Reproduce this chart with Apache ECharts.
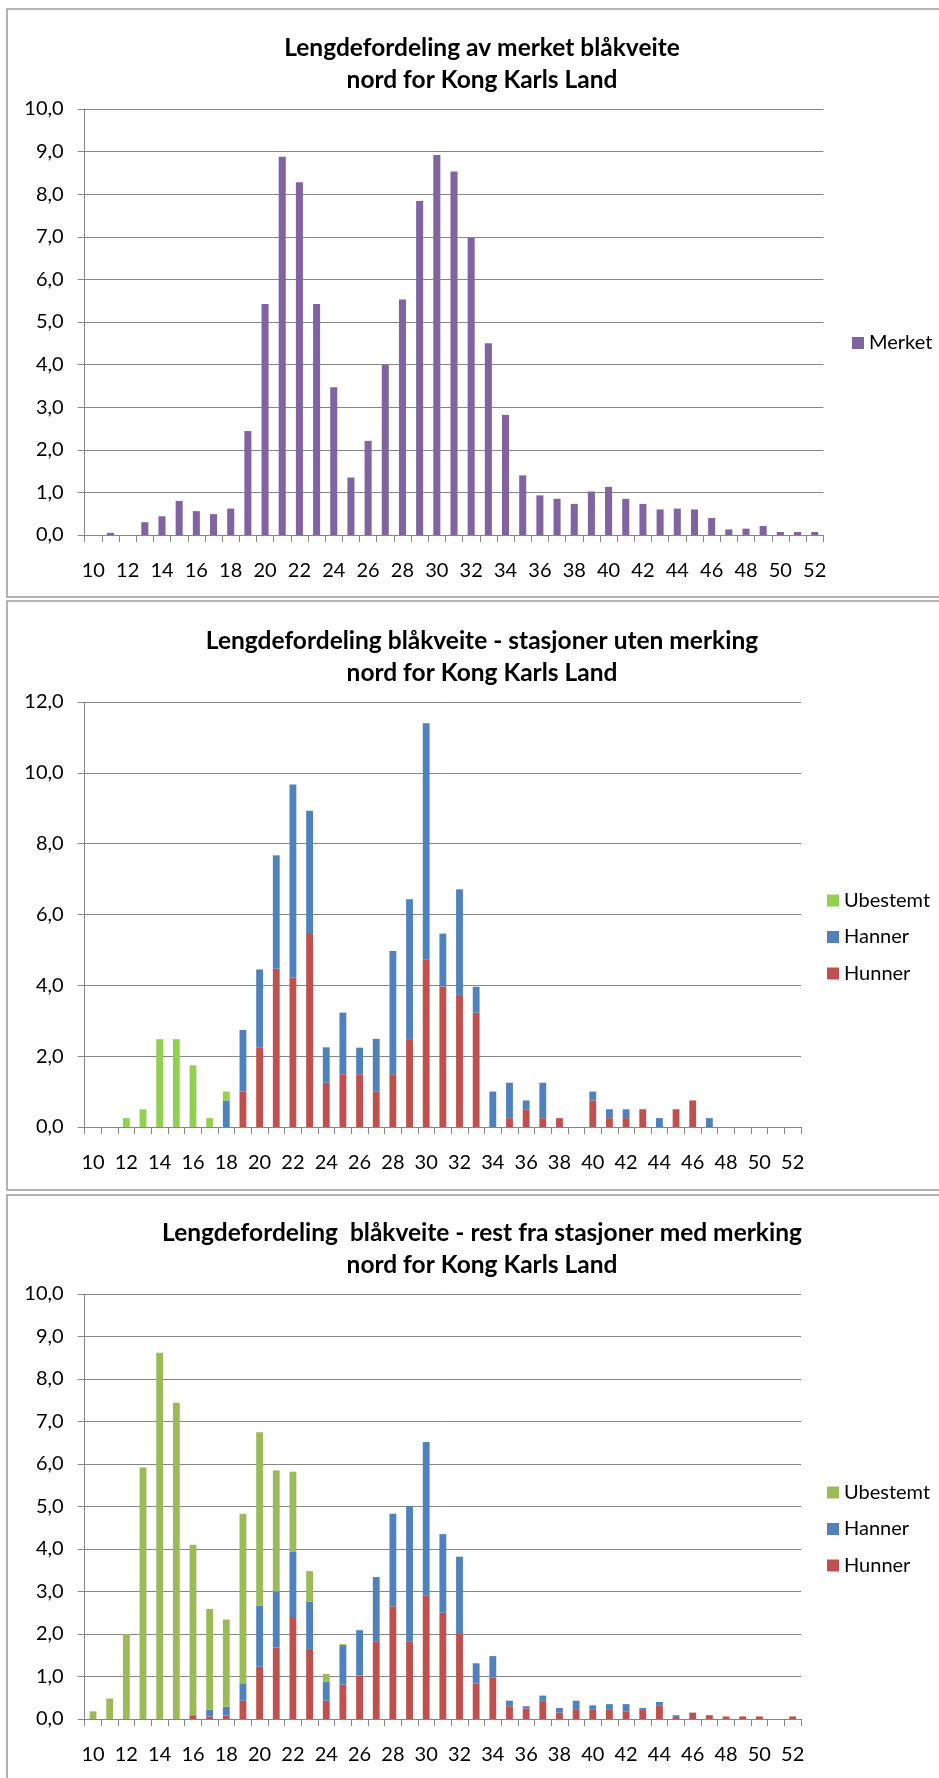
<!DOCTYPE html>
<html>
<head>
<meta charset="utf-8">
<title>Lengdefordeling blåkveite</title>
<script src="https://cdn.jsdelivr.net/npm/echarts@6/dist/echarts.min.js"></script>
<style>
  html, body { margin: 0; padding: 0; background: #ffffff; }
  #chart { width: 939px; height: 1778px; }
</style>
</head>
<body>
<div id="chart"></div>
<script>
// Length classes (cm)
const lengths = ['10','11','12','13','14','15','16','17','18','19','20','21','22','23','24','25','26','27','28','29','30',
                 '31','32','33','34','35','36','37','38','39','40','41','42','43','44','45','46','47','48','49','50','51','52'];

// Chart 1: tagged Greenland halibut (%)
const merket = [0, 0.05, 0, 0.3, 0.44, 0.8, 0.56, 0.49, 0.62, 2.44, 5.42, 8.88, 8.28, 5.42, 3.47, 1.35, 2.21, 3.99, 5.53, 7.84, 8.92,
                8.53, 6.98, 4.5, 2.82, 1.4, 0.93, 0.85, 0.73, 1.02, 1.13, 0.85, 0.73, 0.6, 0.62, 0.6, 0.4, 0.13, 0.15, 0.21, 0.07, 0.07, 0.07];

// Chart 2: stations without tagging (%)
const hunner2 = [0, 0, 0, 0, 0, 0, 0, 0, 0, 1.0, 2.25, 4.47, 4.22, 5.45, 1.25, 1.49, 1.49, 1.0, 1.49, 2.48, 4.72,
                 3.97, 3.73, 3.23, 0, 0.25, 0.5, 0.25, 0.25, 0, 0.75, 0.25, 0.25, 0.5, 0, 0.5, 0.75, 0, 0, 0, 0, 0, 0];
const hanner2 = [0, 0, 0, 0, 0, 0, 0, 0, 0.75, 1.74, 2.2, 3.2, 5.45, 3.48, 1.0, 1.74, 0.75, 1.49, 3.48, 3.95, 6.68,
                 1.49, 2.98, 0.73, 1.0, 1.0, 0.25, 1.0, 0, 0, 0.25, 0.25, 0.25, 0, 0.25, 0, 0, 0.25, 0, 0, 0, 0, 0];
const ubestemt2 = [0, 0, 0.25, 0.5, 2.48, 2.48, 1.74, 0.25, 0.25, 0, 0, 0, 0, 0, 0, 0, 0, 0, 0, 0, 0,
                   0, 0, 0, 0, 0, 0, 0, 0, 0, 0, 0, 0, 0, 0, 0, 0, 0, 0, 0, 0, 0, 0];

// Chart 3: remainder from stations with tagging (%)
const hunner3 = [0, 0, 0, 0, 0, 0, 0.09, 0.06, 0.08, 0.43, 1.23, 1.68, 2.4, 1.65, 0.43, 0.81, 1.02, 1.83, 2.65, 1.82, 2.9,
                 2.5, 2.0, 0.83, 0.97, 0.3, 0.25, 0.43, 0.15, 0.23, 0.23, 0.23, 0.18, 0.23, 0.31, 0.05, 0.15, 0.09, 0.06, 0.06, 0.06, 0, 0.06];
const hanner3 = [0, 0, 0, 0, 0, 0, 0, 0.16, 0.21, 0.41, 1.44, 1.32, 1.53, 1.11, 0.45, 0.93, 1.07, 1.51, 2.18, 3.19, 3.62,
                 1.85, 1.82, 0.48, 0.51, 0.13, 0.05, 0.12, 0.11, 0.2, 0.09, 0.12, 0.17, 0.03, 0.09, 0.04, 0, 0, 0, 0, 0, 0, 0];
const ubestemt3 = [0.18, 0.48, 2.0, 5.92, 8.62, 7.44, 4.01, 2.37, 2.05, 3.99, 4.08, 2.85, 1.89, 0.72, 0.18, 0.02, 0, 0, 0, 0, 0,
                   0, 0, 0, 0, 0, 0, 0, 0, 0, 0, 0, 0, 0, 0, 0, 0, 0, 0, 0, 0, 0, 0];

const titles = [
  'Lengdefordeling av merket blåkveite\nnord for Kong Karls Land',
  'Lengdefordeling blåkveite - stasjoner uten merking\nnord for Kong Karls Land',
  'Lengdefordeling  blåkveite - rest fra stasjoner med merking\nnord for Kong Karls Land'
];

const FONT = 'Lato, "Open Sans", sans-serif';
const GRID_COLOR = '#868686';
const C = {
  purple: '#8064A2', red: '#C0504D', blue: '#4F81BD',
  green2: '#92D050', green3: '#9BBB59'
};

// Panel layout (page pixels)
const panels = [
  { top: 109,  width: 738.6, height: 426, max: 10, step: 1, box: [7, 9, 960, 588],   legendLeft: 852 },
  { top: 702,  width: 716.3, height: 425, max: 12, step: 2, box: [7, 601, 960, 589], legendLeft: 827 },
  { top: 1294, width: 716.3, height: 425, max: 10, step: 1, box: [7, 1195, 960, 620], legendLeft: 827 }
];
const PLOT_LEFT = 84.7;

const fmt = v => v.toFixed(1).replace('.', ',');

const grid = panels.map(p => ({ left: PLOT_LEFT, top: p.top, width: p.width, height: p.height }));

const xAxis = panels.map((p, i) => ({
  type: 'category', gridIndex: i, data: lengths, boundaryGap: true,
  axisLine: { show: true, lineStyle: { color: GRID_COLOR, width: 1 } },
  axisTick: { show: true, interval: 0, length: 7, lineStyle: { color: GRID_COLOR } },
  axisLabel: { interval: 1, margin: 26, fontSize: 20, color: '#000', fontFamily: FONT },
  splitLine: { show: false }
}));

const yAxis = panels.map((p, i) => ({
  type: 'value', gridIndex: i, min: 0, max: p.max, interval: p.step,
  axisLine: { show: true, lineStyle: { color: GRID_COLOR, width: 1 } },
  axisTick: { show: true, length: 7, lineStyle: { color: GRID_COLOR } },
  axisLabel: { margin: 21, fontSize: 20, color: '#000', fontFamily: FONT, formatter: fmt },
  splitLine: { show: true, lineStyle: { color: GRID_COLOR, width: 1 } }
}));

const title = panels.map((p, i) => ({
  text: titles[i], left: 482, top: p.top - 77, textAlign: 'center', padding: 0,
  textStyle: { fontFamily: FONT, fontSize: 24.5, fontWeight: 'bold', lineHeight: 32, color: '#000' }
}));

const legendBase = {
  orient: 'vertical', icon: 'rect', itemWidth: 12, itemHeight: 12, itemGap: 12.5, padding: 0,
  selectedMode: false,
  textStyle: { fontFamily: FONT, fontSize: 20, lineHeight: 24, color: '#000' }
};
const legend = [
  Object.assign({}, legendBase, { left: panels[0].legendLeft, top: panels[0].top + 222,
    data: [{ name: 'Merket', itemStyle: { color: C.purple } }] }),
  Object.assign({}, legendBase, { left: panels[1].legendLeft, top: panels[1].top + 186.5,
    data: [{ name: 'Ubestemt', itemStyle: { color: C.green2 } },
           { name: 'Hanner', itemStyle: { color: C.blue } },
           { name: 'Hunner', itemStyle: { color: C.red } }] }),
  Object.assign({}, legendBase, { left: panels[2].legendLeft, top: panels[2].top + 186.5,
    data: [{ name: 'Ubestemt', itemStyle: { color: C.green3 } },
           { name: 'Hanner', itemStyle: { color: C.blue } },
           { name: 'Hunner', itemStyle: { color: C.red } }] })
];

const bar = (name, idx, data, color, stack) => ({
  name, type: 'bar', xAxisIndex: idx, yAxisIndex: idx, data, stack,
  barWidth: '41%', itemStyle: { color }, emphasis: { disabled: true }
});

const series = [
  bar('Merket', 0, merket, C.purple),
  bar('Hunner', 1, hunner2, C.red, 'p2'),
  bar('Hanner', 1, hanner2, C.blue, 'p2'),
  bar('Ubestemt', 1, ubestemt2, C.green2, 'p2'),
  bar('Hunner', 2, hunner3, C.red, 'p3'),
  bar('Hanner', 2, hanner3, C.blue, 'p3'),
  bar('Ubestemt', 2, ubestemt3, C.green3, 'p3')
];

// Frames around each chart area
const graphic = panels.map(p => ({
  type: 'rect', silent: true, z: -1,
  shape: { x: p.box[0], y: p.box[1], width: p.box[2], height: p.box[3] },
  style: { fill: 'none', stroke: '#9a9a9a', lineWidth: 1.5 }
}));

const chart = echarts.init(document.getElementById('chart'), null, { renderer: 'canvas' });
chart.setOption({
  animation: false,
  backgroundColor: '#ffffff',
  title, legend, grid, xAxis, yAxis, series, graphic
});
</script>
</body>
</html>
